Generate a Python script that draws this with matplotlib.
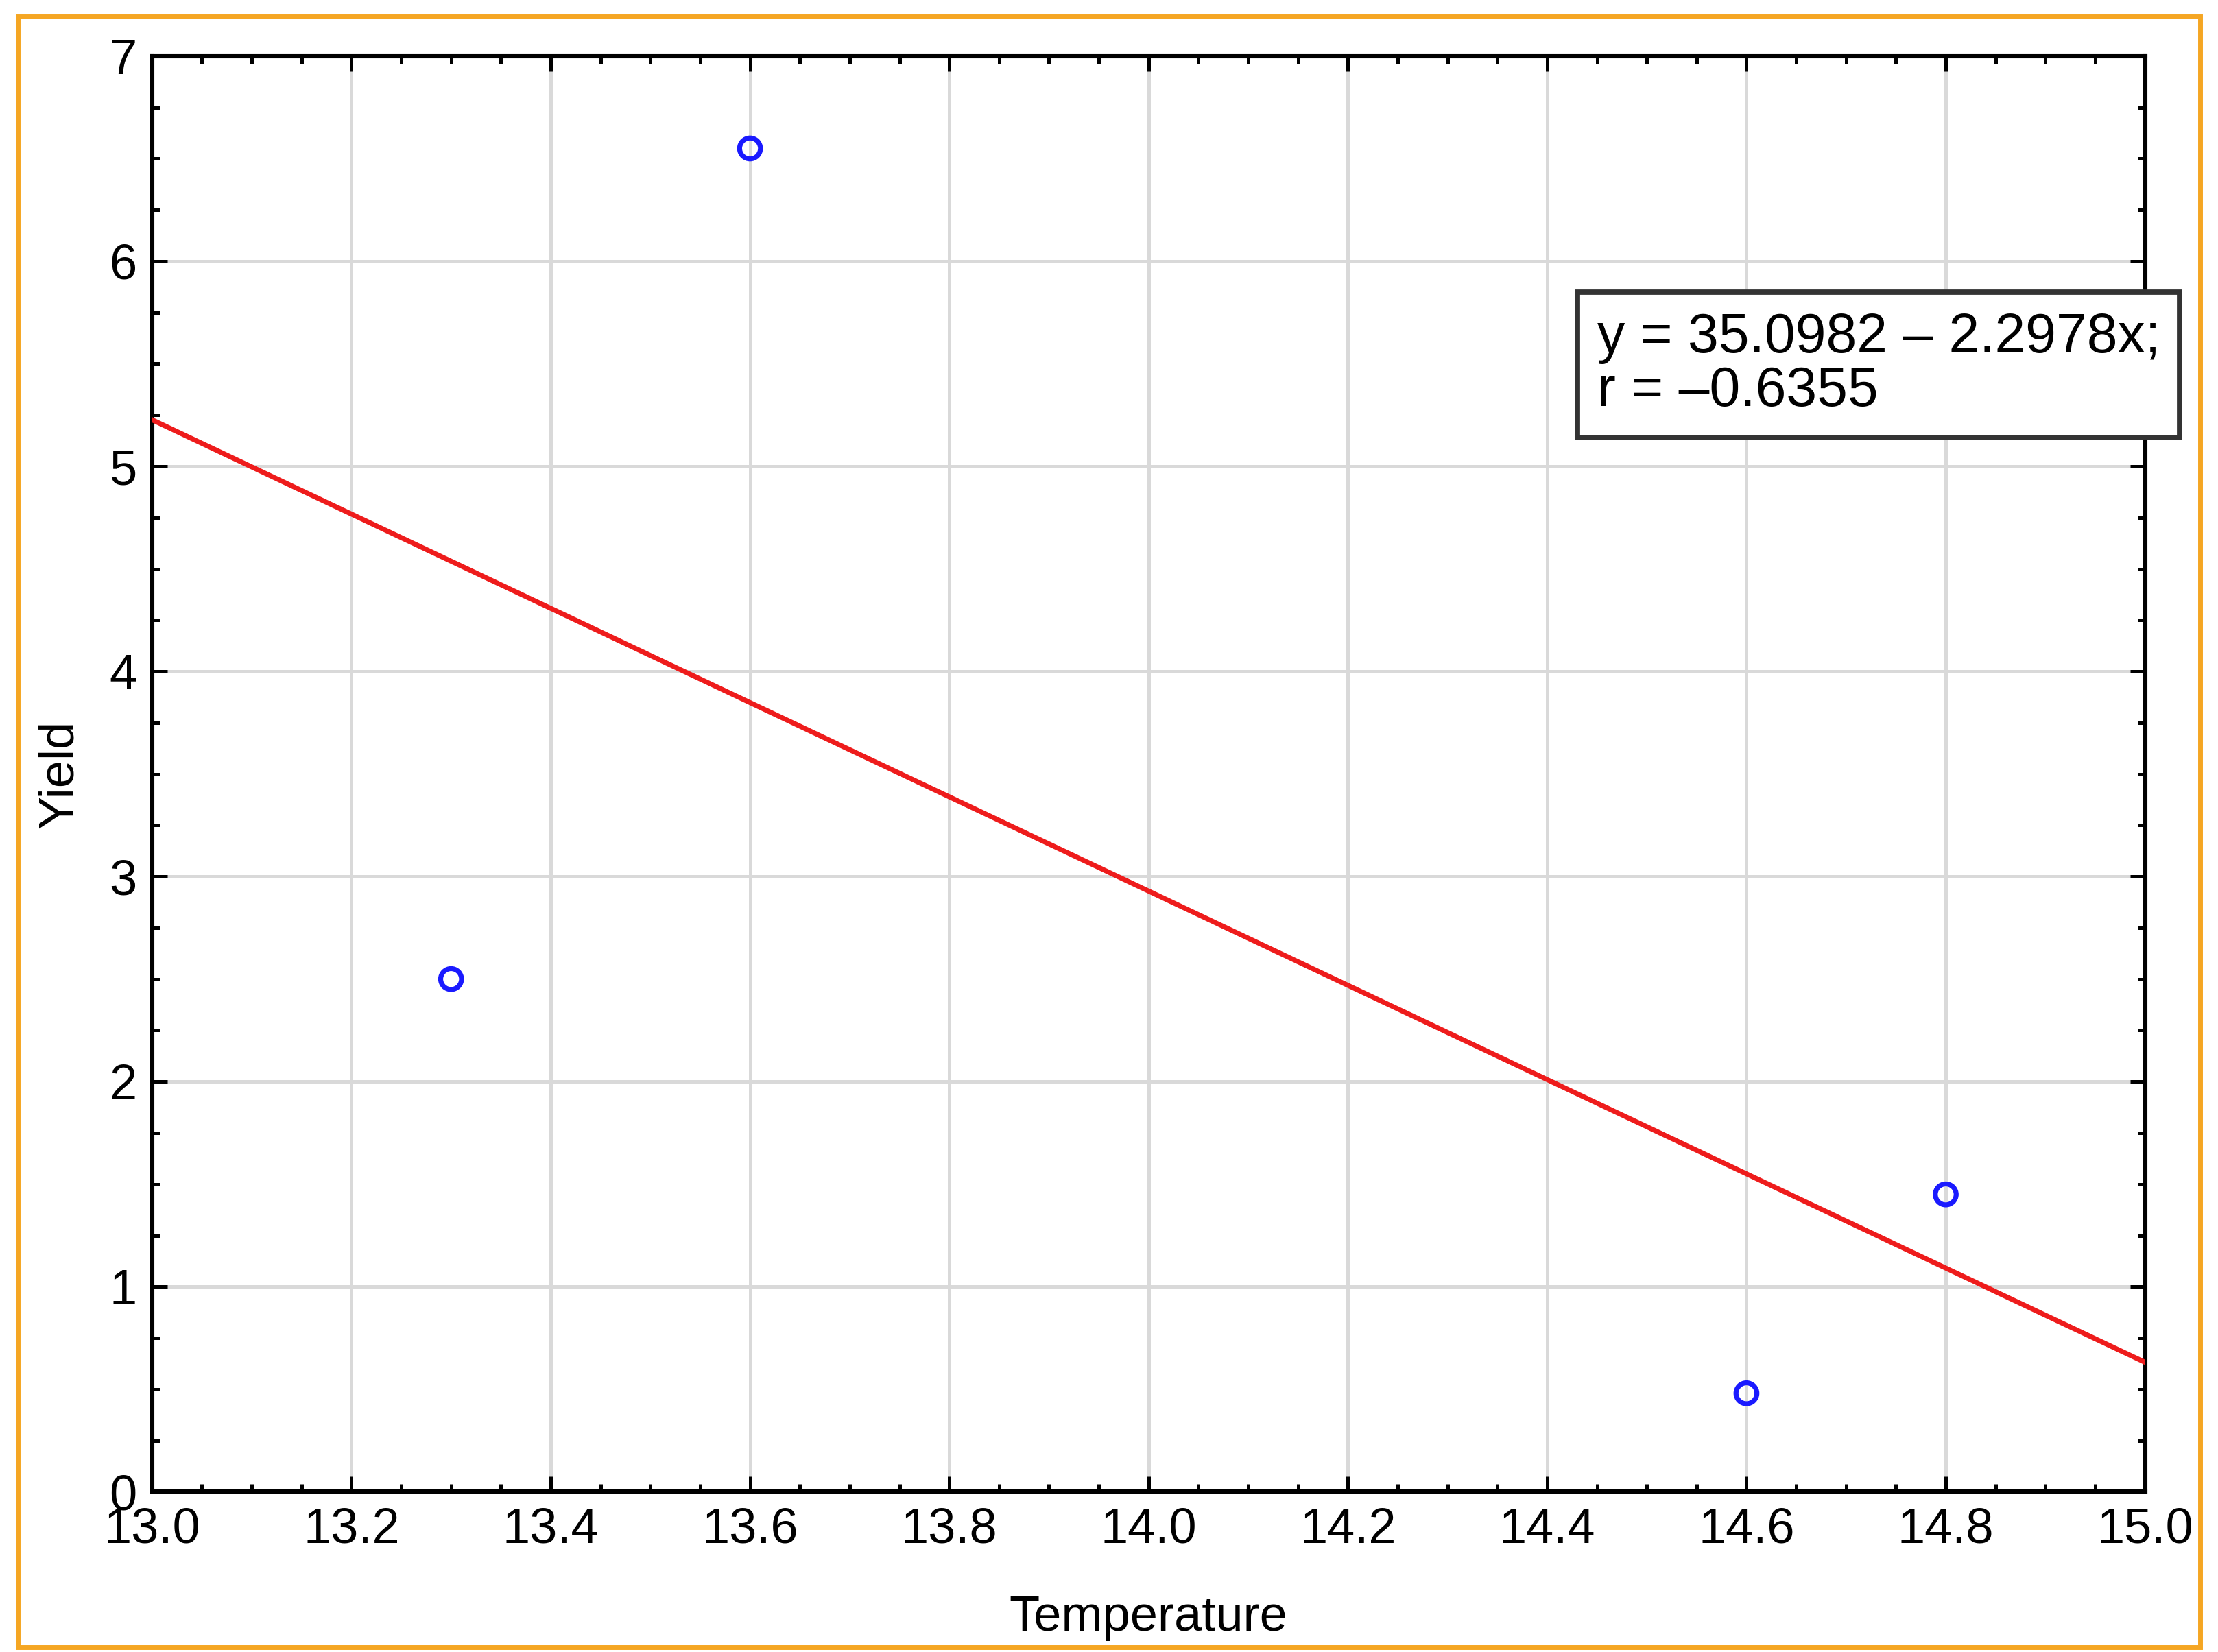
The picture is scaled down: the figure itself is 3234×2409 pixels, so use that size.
import numpy as np
import matplotlib
matplotlib.use("Agg")
from matplotlib import pyplot as plt
from matplotlib.patches import Rectangle
from matplotlib.ticker import MultipleLocator, FormatStrFormatter

temperature = [13.3, 13.6, 14.6, 14.8]
yield_vals = [2.5, 6.55, 0.48, 1.45]
intercept = 35.0982
slope = -2.2978
eq_text = "y = 35.0982 \u2013 2.2978x;\nr = \u20130.6355"

plt.rcParams['font.family'] = ['Liberation Sans', 'DejaVu Sans']

fig = plt.figure(figsize=(16.17, 12.045), dpi=200)
fig.patches.append(Rectangle((0.008, 0.003), 0.984, 0.987, transform=fig.transFigure,
                             fill=False, edgecolor='#f5a623', linewidth=2.5))
ax = fig.add_axes([0.0686, 0.097, 0.8985, 0.869])

xs = np.array([13.0, 15.0])
ax.plot(xs, intercept + slope * xs, color='#ee1c1c', linewidth=2.6, zorder=3)
ax.scatter(temperature, yield_vals, s=120, facecolors='none', edgecolors='#1a1aff',
           linewidths=2.6, marker='o', zorder=4)

ax.set_xlim(13.0, 15.0)
ax.set_ylim(0, 7)
ax.xaxis.set_major_locator(MultipleLocator(0.2))
ax.yaxis.set_major_locator(MultipleLocator(1))
ax.xaxis.set_minor_locator(MultipleLocator(0.05))
ax.yaxis.set_minor_locator(MultipleLocator(0.25))
ax.xaxis.set_major_formatter(FormatStrFormatter('%.1f'))
ax.grid(True, which='major', color='#d9d9d9', linewidth=1.8)
ax.set_axisbelow(True)
ax.tick_params(which='both', direction='in', top=True, right=True, labelsize=26, width=1.8)
ax.tick_params(which='major', length=8, pad=8)
ax.tick_params(which='minor', length=4)
for s in ax.spines.values():
    s.set_linewidth(2.2)

ax.set_xlabel("Temperature", fontsize=26, labelpad=22)
ax.set_ylabel("Yield", fontsize=26, labelpad=14)

ax.text(0.725, 0.822, eq_text, transform=ax.transAxes, fontsize=29, va='top', ha='left',
        linespacing=1.05,
        bbox=dict(boxstyle='square,pad=0.35', facecolor='white', edgecolor='#333333', linewidth=2.8))

fig.savefig("out.png", dpi=200)
